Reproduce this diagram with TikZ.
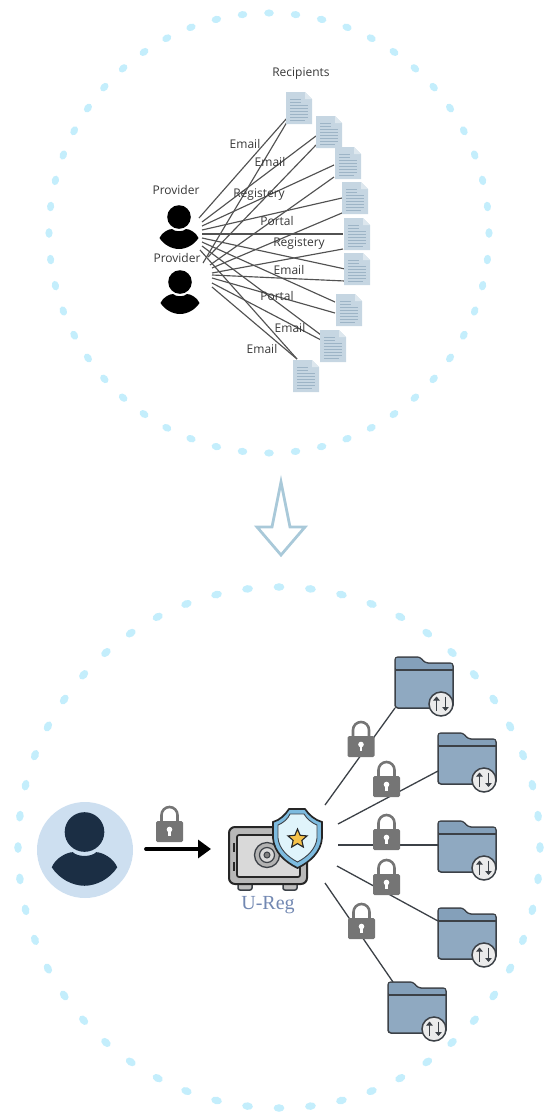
\documentclass[tikz,border=0pt]{standalone}
\usepackage{fontspec}
\setmainfont{Open Sans}
\newfontfamily\uregfont{Liberation Serif}
\usetikzlibrary{arrows.meta,shapes.geometric}
\definecolor{dotblue}{HTML}{C4EEFC}
\definecolor{docfill}{HTML}{C6D6E2}
\definecolor{docline}{HTML}{9DB4C6}
\definecolor{docfold}{HTML}{DDE7EE}
\definecolor{lockgrey}{HTML}{757575}
\definecolor{folderfill}{HTML}{8FA9C1}
\definecolor{foldertab}{HTML}{84A0BA}
\definecolor{darkline}{HTML}{3C4147}
\definecolor{navy}{HTML}{1B2E44}
\definecolor{personbg}{HTML}{CDDFF0}
\definecolor{ureg}{HTML}{7288B2}
\definecolor{arrowblue}{HTML}{A9C9D9}
\definecolor{shieldband}{HTML}{7DBBDF}
\definecolor{shieldin}{HTML}{E0F4FB}
\definecolor{stargold}{HTML}{F6C24A}
\tikzset{
  x=1pt,y=-1pt,
  link/.style={draw=black!68,line width=1.15pt},
  branch/.style={draw=darkline,line width=1.3pt},
  holder/.style={inner sep=0pt,outer sep=0pt,rectangle},
  lbl/.style={font=\fontsize{12}{14}\selectfont,text=black!78,inner sep=0pt},
  docicon/.pic={
    \fill[docfill] (-13,-16) -- (6,-16) -- (13,-9) -- (13,16) -- (-13,16) -- cycle;
    \fill[docfold] (6,-16) -- (13,-9) -- (6,-9) -- cycle;
    \draw[docline,line width=0.9pt] (-9,-9) -- (2,-9) (-9,-6) -- (2,-6) (-9,-3) -- (9,-3) (-9,0) -- (9,0) (-9,3) -- (9,3) (-9,6) -- (9,6) (-9,9) -- (9,9) (-9,12) -- (6,12);
  },
  personicon/.pic={
    \fill[pic actions] (0,0) circle[radius=11.8pt];
    \fill[pic actions] (-19.5,21) .. controls (-17,15) and (-10,12) .. (-7,12)
       .. controls (-4,15) and (4,15) .. (7,12)
       .. controls (10,12) and (17,15) .. (19.5,21)
       .. controls (15,28) and (7,32) .. (0,32)
       .. controls (-7,32) and (-15,28) .. (-19.5,21) -- cycle;
  },
  lockicon/.pic={
    \draw[lockgrey,line width=2.6pt] (-8,-20) -- (-8,-27) arc[start angle=180,end angle=0,radius=8pt] -- (8,-20);
    \fill[lockgrey,rounded corners=1.5pt] (-13.5,-21) rectangle (13.5,0);
    \fill[white] (0,-12.5) circle[radius=2.8pt];
    \fill[white] (-1.3,-12.5) -- (1.3,-12.5) -- (1.3,-6) -- (-1.3,-6) -- cycle;
  },
  foldericon/.pic={
    \filldraw[fill=folderfill,draw=darkline,line width=1.5pt,rounded corners=3pt]
      (0,51) -- (0,0) -- (25,0) -- (30,6) -- (58,6) -- (58,51) -- cycle;
    \fill[foldertab,rounded corners=2pt] (0.8,0.8) -- (24.5,0.8) -- (29.5,6.8) -- (57.2,6.8) -- (57.2,12.5) -- (0.8,12.5) -- cycle;
    \draw[darkline,line width=1.3pt] (0,13) -- (58,13);
    \filldraw[fill=black!8,draw=darkline,line width=1.5pt] (46,47) circle[radius=12pt];
    \draw[darkline,line width=1.8pt,-{Triangle[length=4pt,width=6.5pt]}] (41.5,54) -- (41.5,39.5);
    \draw[darkline,line width=1.8pt,-{Triangle[length=4pt,width=6.5pt]}] (50.5,39.5) -- (50.5,54);
  }
}
\begin{document}
\begin{tikzpicture}
\useasboundingbox (0,0) rectangle (550,1112);
% dotted rings
\foreach \k in {0,...,51}{
  \pgfmathsetmacro{\ang}{90+\k*(360/52)}
  \pgfmathsetmacro{\px}{269+220*cos(\ang)}
  \pgfmathsetmacro{\py}{233-220*sin(\ang)}
  \fill[dotblue,rotate around={\ang+90:(\px,\py)}] (\px,\py) ellipse[x radius=4.8pt,y radius=3.6pt];
}
\foreach \k in {0,...,51}{
  \pgfmathsetmacro{\ang}{90+\k*(360/52)}
  \pgfmathsetmacro{\px}{279+261*cos(\ang)}
  \pgfmathsetmacro{\py}{847.5-260.5*sin(\ang)}
  \fill[dotblue,rotate around={\ang+90:(\px,\py)}] (\px,\py) ellipse[x radius=5.4pt,y radius=3.8pt];
}
% providers
\node[holder,minimum width=40pt,minimum height=44pt] (prov1) at (179,227) {};
\node[holder,minimum width=40pt,minimum height=44pt] (prov2) at (180,292) {};
% recipients
\foreach \n/\x/\y in {1/299/108,2/329/132,3/348/163,4/355/198,5/357/234,6/357/269,7/349/310,8/333/346,9/306/376}{
  \node[holder,minimum width=26pt,minimum height=32pt] (doc\n) at (\x,\y) {};
}
% line ends
\foreach \i/\a/\b/\c/\d in {
 1/199/218/287/118, 2/203/263/287/122,
 3/202/222/316/136, 4/208/257/316/145,
 5/202/226/334/165, 6/210/265/334/177,
 7/202/230/342/198, 8/212/268/342/213,
 9/202/234/343/234, 10/212/273/343/249,
 11/202/238/345/269, 12/212/275/345/281,
 13/202/242/335/302, 14/212/278/335/313,
 15/202/246/321/335, 16/212/283/321/340,
 17/200/250/297/359, 18/212/287/297/359}{
  \coordinate (from\i) at (\a,\b);
  \coordinate (to\i) at (\c,\d);
  \draw[link] (from\i) -- (to\i);
}
\foreach \n in {1,...,9}{ \pic at (doc\n) {docicon}; }
\pic[black] at (179,217) {personicon};
\pic[black] at (180,282) {personicon};
\node[lbl] (tprov1) at (176,190) {Provider};
\node[lbl] (tprov2) at (177,258) {Provider};
\node[lbl] (trec) at (301,74) {Recipients};
\node[lbl] (m1) at (245,144) {Email};
\node[lbl] (m2) at (270,162) {Email};
\node[lbl] (m3) at (259,195) {Registery};
\node[lbl] (m4) at (277,221) {Portal};
\node[lbl] (m5) at (299,244) {Registery};
\node[lbl] (m6) at (289,270) {Email};
\node[lbl] (m7) at (277,296) {Portal};
\node[lbl] (m8) at (290,328) {Email};
\node[lbl] (m9) at (262,349) {Email};
% big arrow
\draw[arrowblue,line width=2.8pt,line join=miter] (281,482) -- (290,527) -- (305,527) -- (281,555) -- (257,527) -- (272,527) -- cycle;
% user
\node[circle,fill=personbg,minimum size=96pt,inner sep=0pt] (user) at (85,850) {};
\pic[navy,scale=1.68] at (84.5,832) {personicon};
% main arrow
\coordinate (a1) at (146,849);
\coordinate (a2) at (211,849);
\draw[black,line width=3.8pt,line cap=round,-{Triangle[length=13pt,width=18pt]}] (a1) -- (a2);
\pic at (169.5,842) {lockicon};
% vault
\node[holder,minimum width=78pt,minimum height=63pt] (vault) at (268,858.5) {};
\filldraw[fill=black!25,draw=darkline,line width=1.5pt,rounded corners=2pt] (238,882) rectangle (252,890);
\filldraw[fill=black!25,draw=darkline,line width=1.5pt,rounded corners=2pt] (283,882) rectangle (297,890);
\filldraw[fill=black!28,draw=black!85,line width=2pt,rounded corners=6pt] (229,827) rectangle (307,884);
\filldraw[fill=black!15,draw=black!85,line width=1.7pt,rounded corners=2pt] (237,835) rectangle (300,877);
\draw[black!85,line width=1.7pt] (234,843) -- (234,852) (234,862) -- (234,871);
\filldraw[fill=black!30,draw=darkline,line width=1.3pt] (267,855) circle[radius=12.5pt];
\filldraw[fill=black!15,draw=darkline,line width=1.2pt] (267,855) circle[radius=7.5pt];
\filldraw[fill=black!50,draw=darkline,line width=1pt] (267,855) circle[radius=3pt];
% shield
\filldraw[fill=shieldband,draw=black!85,line width=1.7pt] (289,809) -- (305,809) .. controls (309,815) and (315,820) .. (322,822) -- (322,838) .. controls (321,852) and (310,862) .. (297.5,868) .. controls (285,862) and (274,852) .. (273,838) -- (273,822) .. controls (280,820) and (285,815) .. (289,809) -- cycle;
\filldraw[fill=shieldin,draw=darkline,line width=0.9pt] (290,814) -- (304,814) .. controls (307,819) and (312,823) .. (317,825) -- (317,838) .. controls (316,849) and (307,857) .. (297.5,862) .. controls (288,857) and (279,849) .. (278,838) -- (278,825) .. controls (283,823) and (288,819) .. (290,814) -- cycle;
\node[star,star points=5,star point ratio=2.2,fill=stargold,draw=black!85,line width=1.1pt,minimum size=20pt,inner sep=0pt] (stargl) at (297.5,839) {};
\node[font=\uregfont\fontsize{20}{22}\selectfont,text=ureg,inner sep=0pt] (uregl) at (268,905) {U-Reg};
% folders
\foreach \n/\x/\y in {1/395/657,2/438/733,3/438/821,4/438/908,5/388/982}{
  \node[holder,anchor=north west,minimum width=58pt,minimum height=51pt] (fold\n) at (\x,\y) {};
}
\foreach \i/\a/\b/\c/\d in {1/325/805/395/708, 2/338/824/438/771, 3/338/845/438/845, 4/337/866/438/921, 5/325/883/393/982}{
  \coordinate (start\i) at (\a,\b);
  \coordinate (end\i) at (\c,\d);
  \draw[branch] (start\i) -- (end\i);
}
\foreach \n/\x/\y in {1/395/657,2/438/733,3/438/821,4/438/908,5/388/982}{
  \pic at (\x,\y) {foldericon};
}
\foreach \x/\y in {361/757,386.5/797,386.5/850,386.5/895,361.5/939}{
  \pic at (\x,\y) {lockicon};
}
\end{tikzpicture}
\end{document}
